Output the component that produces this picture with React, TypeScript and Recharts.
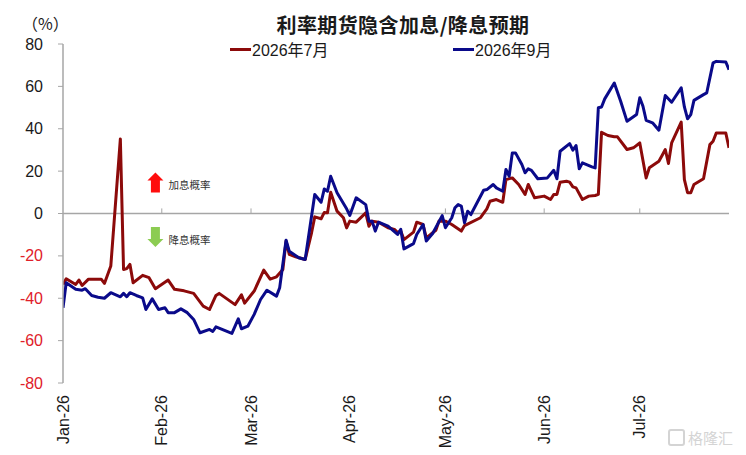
import React from "react";
import {
  LineChart,
  Line,
  XAxis,
  YAxis,
  ReferenceLine,
  ReferenceDot,
  Legend,
} from "recharts";

// x = days since 2026-01-01
const monthTicks = [0, 31, 59, 90, 120, 151, 181];
const monthLabels = ["Jan-26", "Feb-26", "Mar-26", "Apr-26", "May-26", "Jun-26", "Jul-26"];
const yTicks = [-80, -60, -40, -20, 0, 20, 40, 60, 80];

const julDays = [
  0, 1, 4, 5, 6, 8, 12, 13, 15, 18,
  19, 20, 21, 22, 25, 27, 29, 33, 35, 38,
  41, 44, 46, 48, 49, 54, 56, 57, 60, 63,
  65, 67, 69, 70, 71, 73, 76, 78, 79, 81,
  82, 83, 84, 86, 88, 89, 90, 92, 95, 96,
  97, 99, 102, 104, 105, 106, 107, 110, 111, 113,
  114, 117, 118, 120, 122, 125, 126, 131, 133, 134,
  136, 138, 139, 141, 143, 145, 146, 148, 151, 153,
  154, 155, 156, 158, 159, 160, 161, 163, 165, 167,
  168, 169, 171, 173, 174, 177, 179, 181, 183, 184,
  187, 188, 189, 190, 191, 194, 195, 196, 197, 198,
  201, 203, 204, 205, 208, 209,
];
const julValues = [
  -33.5, -30.8, -33.5, -31.4, -34, -31, -31, -33, -24.8, 35.2,
  -26.4, -26, -24, -32.7, -29.2, -30.3, -35.5, -31.4, -35.8, -36.5,
  -37.7, -43.7, -45.3, -38.7, -37.7, -43, -38.4, -42.3, -36.6, -26.7,
  -31, -29.9, -26.4, -13, -19.3, -20.4, -21.7, -9.1, -1.6, -2.5,
  0.5, 0.3, 10, 1.1, -2, -6.8, -3.6, -4.1, 0.3, -6,
  -3.6, -4.1, -6.7, -7.5, -9, -8.3, -12.3, -8.8, -4.1, -5.2,
  -11.5, -7.9, -3.5, -3.6, -5.2, -8.3, -5.7, -2, 2.2, 5.8,
  6.6, 5.3, 16, 16.8, 13.7, 9, 13.7, 7.4, 8.2, 6.6,
  9, 9, 14.8, 15.2, 14.8, 12.6, 12.1, 6.6, 8.2, 8.5,
  9, 38.3, 36.8, 36.2, 36.2, 30.2, 31, 33.3, 16.8, 21.6,
  24.7, 27.4, 30.2, 23.6, 33.3, 43.1, 16, 9.8, 9.8, 13.7,
  16.4, 32.5, 34.1, 38, 38, 31,
];

const sepDays = [
  0, 1, 4, 6, 7, 9, 11, 13, 15, 18,
  19, 20, 21, 23, 25, 26, 28, 30, 32, 33,
  35, 37, 39, 41, 43, 46, 47, 48, 53, 55,
  56, 58, 60, 62, 64, 67, 68, 70, 71, 74,
  76, 79, 81, 82, 83, 84, 86, 89, 90, 92,
  95, 96, 97, 98, 99, 102, 105, 106, 107, 110,
  111, 113, 114, 116, 119, 120, 122, 123, 124, 125,
  126, 127, 128, 132, 133, 135, 136, 138, 139, 140,
  141, 142, 144, 145, 146, 147, 149, 152, 154, 155,
  156, 159, 160, 161, 162, 163, 166, 167, 168, 169,
  170, 173, 175, 177, 180, 181, 182, 183, 185, 187,
  189, 191, 194, 195, 196, 197, 198, 201, 202, 204,
  205, 208, 209,
];
const sepValues = [
  -44.5, -32.7, -35.8, -36.2, -35.5, -38.7, -39.5, -40, -37.4, -39.3,
  -37.7, -39.3, -37.4, -38.7, -39.8, -45.3, -40.3, -45.3, -44.5, -46.8,
  -46.8, -45, -46.8, -50, -56.3, -54.7, -55.7, -53.5, -56.6, -49.7,
  -54.4, -53.2, -47.6, -40.6, -36.2, -39, -35, -12.6, -17.8, -20.9,
  -21.7, 9, 5.3, 11.6, 10.5, 17.6, 9.8, 2.2, -0.9, 7.4,
  4.2, -3.6, -3.6, -8.3, -4.1, -6, -9.9, -7.5, -16.7, -14.2,
  -9.9, -5.2, -13, -9.4, -1, -6.7, -2, 2.7, 4.2, 3.5,
  -4.4, 1.1, -0.5, 11, 11.3, 13.7, 12.1, 10.5, 20.8, 17.6,
  28.6, 28.6, 23.1, 19.2, 21.1, 20.4, 16.4, 16.8, 20.4, 16.4,
  29.4, 33, 29.9, 32.1, 21.1, 23.9, 22, 21.5, 49.9, 50.3,
  54.1, 61.6, 53, 43.5, 46.7, 54.6, 50.6, 44, 42.8, 39.3,
  55.7, 52.5, 59.3, 50.3, 44.7, 46.7, 53.4, 56.1, 56.9, 71.1,
  71.8, 71.5, 67.9,
];

const julData = julDays.map((day, i) => ({ day, v: julValues[i] }));
const sepData = sepDays.map((day, i) => ({ day, v: sepValues[i] }));

const RED = "#8c0a0a";
const BLUE = "#0a0a8a";
const AXIS = "#a6a6a6";
const FONT = "'Liberation Sans', Arial, 'Noto Sans CJK SC', sans-serif";
const CJK = "'Noto Sans CJK SC', sans-serif";

function YTick({ x, y, payload }: any) {
  return (
    <text
      x={x}
      y={y}
      textAnchor="end"
      dominantBaseline="central"
      fontSize={16}
      fontFamily={FONT}
      fill={payload.value < 0 ? "#e0202a" : "#1a1a1a"}
    >
      {payload.value}
    </text>
  );
}

function XTick({ x, y, payload }: any) {
  const idx = monthTicks.indexOf(payload.value);
  return (
    <text
      x={x}
      y={y}
      transform={`rotate(-90, ${x}, ${y})`}
      textAnchor="end"
      dy="0.35em"
      fontSize={16}
      fontFamily={FONT}
      fill="#1a1a1a"
    >
      {monthLabels[idx]}
    </text>
  );
}

function ArrowNote({ cx, cy, up, label }: any) {
  const color = up ? "#ff0d0d" : "#8ccc52";
  const pts = up
    ? [
        [cx, cy - 10],
        [cx + 8, cy - 2],
        [cx + 4.5, cy - 2],
        [cx + 4.5, cy + 10],
        [cx - 4.5, cy + 10],
        [cx - 4.5, cy - 2],
        [cx - 8, cy - 2],
      ]
    : [
        [cx - 4.5, cy - 10],
        [cx + 4.5, cy - 10],
        [cx + 4.5, cy + 2],
        [cx + 8, cy + 2],
        [cx, cy + 10],
        [cx - 8, cy + 2],
        [cx - 4.5, cy + 2],
      ];
  return (
    <g>
      <polygon points={pts.map((p) => p.join(",")).join(" ")} fill={color} />
      <text
        x={cx + 13}
        y={cy + 2}
        dominantBaseline="central"
        fontSize={10.5}
        fontFamily={CJK}
        fill="#333"
      >
        {label}
      </text>
    </g>
  );
}

function LegendContent({ payload }: any) {
  const pos = [222, 445];
  return (
    <div style={{ position: "relative", height: 20 }}>
      {(payload || []).map((p: any, i: number) => (
        <div
          key={p.value}
          style={{
            position: "absolute",
            left: pos[i],
            top: 0,
            display: "flex",
            alignItems: "center",
            fontFamily: FONT,
            fontSize: 16,
            color: "#1a1a1a",
            whiteSpace: "nowrap",
          }}
        >
          <span
            style={{ display: "inline-block", width: 21, height: 3, background: p.color, marginRight: 1 }}
          />
          {p.value}
        </div>
      ))}
    </div>
  );
}

export default function App() {
  return (
    <div style={{ position: "relative", width: 738, height: 447, background: "#fff" }}>
      <div
        style={{
          position: "absolute",
          left: 195,
          top: 5,
          width: 400,
          textAlign: "center",
          fontFamily: CJK,
          fontWeight: 700,
          fontSize: 20,
          letterSpacing: 0.4,
          lineHeight: "24px",
          color: "#1a1a1a",
        }}
      >
        利率期货隐含加息/降息预期
      </div>
      <div
        style={{
          position: "absolute",
          left: 14,
          top: 5,
          fontFamily: CJK,
          fontSize: 16,
          lineHeight: "20px",
          color: "#1a1a1a",
        }}
      >
        （%）
      </div>
      <LineChart
        width={738}
        height={447}
        margin={{ top: 36, right: 17, bottom: 12, left: 0 }}
      >
        <XAxis
          type="number"
          dataKey="day"
          domain={[0, 209]}
          ticks={monthTicks}
          interval={0}
          axisLine={false}
          tickLine={false}
          tickSize={0}
          tickMargin={12}
          height={60}
          tick={<XTick />}
          allowDataOverflow
        />
        <YAxis
          type="number"
          domain={[-80, 80]}
          ticks={yTicks}
          interval={0}
          width={55}
          axisLine={{ stroke: AXIS, strokeWidth: 1.5 }}
          tickLine={{ stroke: AXIS, strokeWidth: 1 }}
          tickSize={5}
          tickMargin={15}
          tick={<YTick />}
        />
        <ReferenceLine y={0} stroke={AXIS} strokeWidth={1.5} />
        {monthTicks.slice(1).map((d) => (
          <ReferenceLine
            key={d}
            segment={[
              { x: d, y: 0 },
              { x: d, y: 2.4 },
            ]}
            stroke={AXIS}
            strokeWidth={1}
          />
        ))}
        <ReferenceDot x={29} y={14.6} shape={(p: any) => <ArrowNote {...p} up label="加息概率" />} />
        <ReferenceDot x={29} y={-11.1} shape={(p: any) => <ArrowNote {...p} up={false} label="降息概率" />} />
        <Legend
          verticalAlign="middle"
          align="center"
          layout="horizontal"
          wrapperStyle={{ top: 29, left: 0, width: 738 }}
          content={<LegendContent />}
        />
        <Line
          data={julData}
          dataKey="v"
          name="2026年7月"
          type="linear"
          stroke={RED}
          strokeWidth={3}
          dot={false}
          strokeLinejoin="round"
          isAnimationActive={false}
        />
        <Line
          data={sepData}
          dataKey="v"
          name="2026年9月"
          type="linear"
          stroke={BLUE}
          strokeWidth={3}
          dot={false}
          strokeLinejoin="round"
          isAnimationActive={false}
        />
      </LineChart>
      <div
        style={{
          position: "absolute",
          left: 660,
          top: 419,
          display: "flex",
          alignItems: "center",
          fontFamily: CJK,
          fontSize: 15,
          color: "#d4d4d4",
          whiteSpace: "nowrap",
        }}
      >
        <span
          style={{
            display: "inline-block",
            width: 13,
            height: 13,
            border: "2px solid #d4d4d4",
            borderRadius: 3,
            marginRight: 3,
          }}
        />
        格隆汇
      </div>
    </div>
  );
}
